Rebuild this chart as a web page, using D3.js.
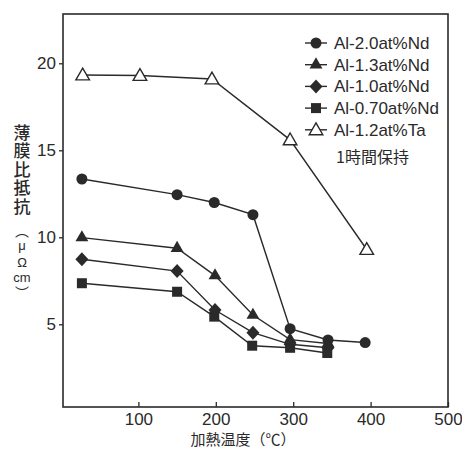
<!DOCTYPE html>
<html><head><meta charset="utf-8">
<script src="https://cdn.jsdelivr.net/npm/d3@7"></script>
<style>body{margin:0;background:#fff}svg{display:block}</style>
</head><body><svg id="c" width="462" height="450"></svg>
<script>
const seriesNames = ["Al-2.0at%Nd","Al-1.3at%Nd","Al-1.0at%Nd","Al-0.70at%Nd","Al-1.2at%Ta"];
const seriesSymbols = ["circle","triangle","diamond","square","triangleOpen"];
const temps_Nd20 = [27,150,198,248,296,345,393];
const vals_Nd20  = [13.35,12.45,12.0,11.3,4.75,4.1,3.95];
const temps_Nd13 = [27,150,199,248,296,345];
const vals_Nd13  = [9.98,9.37,7.8,5.53,4.12,3.9];
const temps_Nd10 = [27,150,199,248,296,345];
const vals_Nd10  = [8.74,8.06,5.82,4.52,3.85,3.65];
const temps_Nd07 = [27,150,198,247,296,344];
const vals_Nd07  = [7.36,6.87,5.44,3.77,3.65,3.35];
const temps_Ta   = [28,102,195,296,395];
const vals_Ta    = [19.33,19.3,19.1,15.6,9.3];
const xTicks = [100,200,300,400,500];
const yTicks = [5,10,15,20];
const yLabel = "薄膜比抵抗";
const yUnitOpen = "︵";
const yUnitParts = ["μ","Ω","cm"];
const yUnitClose = "︶";
const xLabel = "加熱温度（℃）";
const note = "1時間保持";

const series = [
  {t:temps_Nd20,v:vals_Nd20},{t:temps_Nd13,v:vals_Nd13},{t:temps_Nd10,v:vals_Nd10},
  {t:temps_Nd07,v:vals_Nd07},{t:temps_Ta,v:vals_Ta}
].map((s,i)=>({name:seriesNames[i],sym:seriesSymbols[i],pts:s.t.map((t,j)=>[t,s.v[j]])}));

const svg = d3.select("#c");
const ink = "#2a2a2a";
const font = "'Liberation Sans', Arial, sans-serif";
const cjk = "'Noto Sans CJK JP', sans-serif";
const L=63,R=448,T=14,B=407;
const x = d3.scaleLinear().domain([0,500]).range([61,448]);
const y = d3.scaleLinear().domain([0,20]).range([411.3,63.3]);

// frame
svg.append("rect").attr("x",L).attr("y",T).attr("width",R-L).attr("height",B-T)
  .attr("fill","none").attr("stroke",ink).attr("stroke-width",1.6);

// x axis (inward ticks)
const xa = svg.append("g").attr("transform",`translate(0,${B})`)
  .call(d3.axisBottom(x).tickValues(xTicks).tickSizeInner(-5).tickSizeOuter(0).tickPadding(6));
xa.select(".domain").remove();
xa.selectAll("line").attr("stroke",ink).attr("stroke-width",1.3);
xa.selectAll("text").attr("font-family",font).attr("font-size",17).attr("fill",ink);

// y axis (outward ticks)
const ya = svg.append("g").attr("transform",`translate(${L},0)`)
  .call(d3.axisLeft(y).tickValues(yTicks).tickSizeInner(4).tickSizeOuter(0).tickPadding(3));
ya.select(".domain").remove();
ya.selectAll("line").attr("stroke",ink).attr("stroke-width",1.3);
ya.selectAll("text").attr("font-family",font).attr("font-size",17).attr("fill",ink);

// axis titles
svg.append("text").attr("x",243).attr("y",445).attr("text-anchor","middle")
  .attr("font-family",cjk).attr("font-size",15).attr("fill",ink).text(xLabel);

svg.append("text").attr("x",22).attr("y",124)
  .style("writing-mode","vertical-rl")
  .attr("letter-spacing",1.5).attr("font-family",cjk).attr("font-size",17).attr("font-weight",500)
  .attr("fill",ink).text(yLabel);
svg.append("text").attr("x",22).attr("y",224)
  .style("writing-mode","vertical-rl")
  .attr("font-family",cjk).attr("font-size",14).attr("fill",ink).text(yUnitOpen);
const unitBase = [250,267,282];
yUnitParts.forEach((c,i)=>svg.append("text").attr("x",22).attr("y",unitBase[i]).attr("text-anchor","middle")
  .attr("font-family",font).attr("font-size",13).attr("fill",ink).text(c));
svg.append("text").attr("x",22).attr("y",286)
  .style("writing-mode","vertical-rl")
  .attr("font-family",cjk).attr("font-size",14).attr("fill",ink).text(yUnitClose);

// symbols
function drawSym(g,sym,cx,cy){
  if(sym==="circle") g.append("circle").attr("cx",cx).attr("cy",cy).attr("r",5.5).attr("fill",ink);
  else if(sym==="triangle") g.append("path").attr("d",d3.symbol(d3.symbolTriangle,72)()).attr("transform",`translate(${cx},${cy})`).attr("fill",ink);
  else if(sym==="diamond") g.append("path").attr("d",`M0,-7L6.5,0L0,7L-6.5,0Z`).attr("transform",`translate(${cx},${cy})`).attr("fill",ink);
  else if(sym==="square") g.append("rect").attr("x",cx-5).attr("y",cy-5).attr("width",10).attr("height",10).attr("fill",ink);
  else if(sym==="triangleOpen") g.append("path").attr("d",d3.symbol(d3.symbolTriangle,80)()).attr("transform",`translate(${cx},${cy+1})`).attr("fill","#fff").attr("stroke",ink).attr("stroke-width",1.4);
}

const line = d3.line().x(d=>x(d[0])).y(d=>y(d[1]));
const plot = svg.append("g");
series.forEach(s=>{
  plot.append("path").attr("d",line(s.pts)).attr("fill","none").attr("stroke",ink).attr("stroke-width",1.4);
});
series.forEach(s=>{
  s.pts.forEach(p=>drawSym(plot,s.sym,x(p[0]),y(p[1])));
});

// legend
const lg = svg.append("g");
series.forEach((s,i)=>{
  const ly = 43 + i*21.7;
  lg.append("line").attr("x1",305).attr("x2",327).attr("y1",ly).attr("y2",ly).attr("stroke",ink).attr("stroke-width",1.4);
  drawSym(lg,s.sym,316,ly);
  lg.append("text").attr("x",334).attr("y",ly+6).attr("font-family",font).attr("font-size",17).attr("fill",ink).text(s.name);
});
lg.append("text").attr("x",336).attr("y",163).attr("font-family",cjk).attr("font-size",16).attr("fill",ink).text(note);
</script></body></html>
